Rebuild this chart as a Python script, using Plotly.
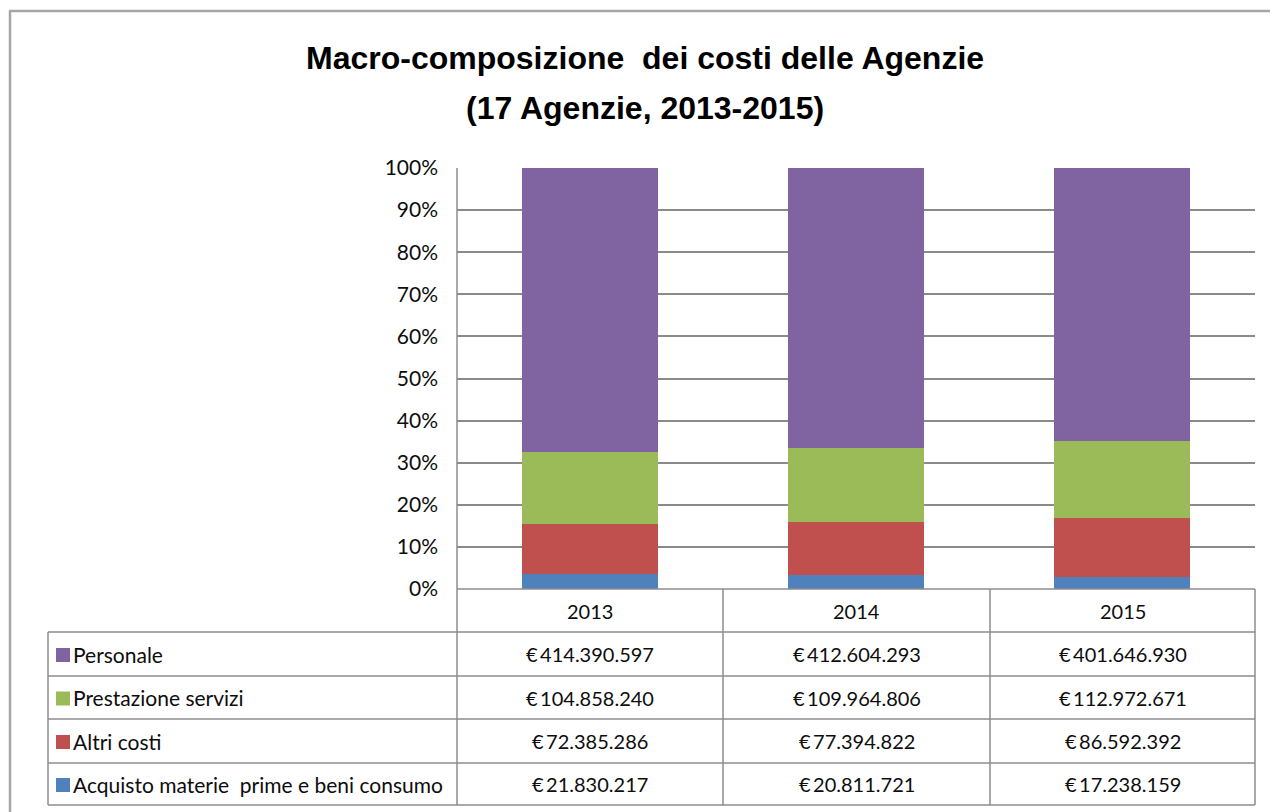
import plotly.graph_objects as go

# --- data ---------------------------------------------------------------
anni = ["2013", "2014", "2015"]
voci = ["Personale", "Prestazione servizi", "Altri costi",
        "Acquisto materie\u00a0 prime e beni consumo"]
personale = [414390597, 412604293, 401646930]
prestazione_servizi = [104858240, 109964806, 112972671]
altri_costi = [72385286, 77394822, 86592392]
acquisto_materie = [21830217, 20811721, 17238159]
tick_vals = [0, 10, 20, 30, 40, 50, 60, 70, 80, 90, 100]
tick_text = ["0%", "10%", "20%", "30%", "40%", "50%", "60%", "70%", "80%", "90%", "100%"]

colori = {
    "Personale": "#8064A2",
    "Prestazione servizi": "#9BBB59",
    "Altri costi": "#C0504D",
    "Acquisto": "#4F81BD",
}

W, H = 1270, 812


def px(x):
    return x / W


def py(y):
    return 1 - y / H


def euro(v):
    return "€\u2009" + f"{v:,}".replace(",", ".")


# plot area in pixels
X0, X1, Y0, Y1 = 457, 1255, 168, 589
# table grid in pixels
T_LEFT = 48
ROWS = [589, 632, 676, 719, 763, 805]
COLS = [457, 723, 990, 1255]

fig = go.Figure()

serie = [
    ("Acquisto", acquisto_materie),
    ("Altri costi", altri_costi),
    ("Prestazione servizi", prestazione_servizi),
    ("Personale", personale),
]
for nome, vals in serie:
    fig.add_trace(go.Bar(x=anni, y=vals, name=nome,
                         marker=dict(color=colori[nome], line=dict(width=0)),
                         showlegend=False, hoverinfo="skip"))

grid_col = "#8a8a8a"
line_col = "#8c8c8c"

shapes = []
# outer chart frame
shapes.append(dict(type="line", xref="paper", yref="paper", x0=px(10), x1=px(10),
                   y0=py(11), y1=0, line=dict(color="#a6a6a6", width=2.5)))
shapes.append(dict(type="line", xref="paper", yref="paper", x0=px(9), x1=1,
                   y0=py(11), y1=py(11), line=dict(color="#a6a6a6", width=2.5)))
# y axis line continued through the table
shapes.append(dict(type="line", xref="paper", yref="paper", x0=px(COLS[0]), x1=px(COLS[0]),
                   y0=py(Y0), y1=py(ROWS[-1]), line=dict(color=line_col, width=1.5)))
# horizontal table lines
shapes.append(dict(type="line", xref="paper", yref="paper", x0=px(COLS[0]), x1=px(COLS[-1]),
                   y0=py(ROWS[0]), y1=py(ROWS[0]), line=dict(color=line_col, width=1.5)))
for r in ROWS[1:]:
    shapes.append(dict(type="line", xref="paper", yref="paper", x0=px(T_LEFT), x1=px(COLS[-1]),
                       y0=py(r), y1=py(r), line=dict(color=line_col, width=1.5)))
# vertical table lines
shapes.append(dict(type="line", xref="paper", yref="paper", x0=px(T_LEFT), x1=px(T_LEFT),
                   y0=py(ROWS[1]), y1=py(ROWS[-1]), line=dict(color=line_col, width=1.5)))
for c in COLS[1:]:
    shapes.append(dict(type="line", xref="paper", yref="paper", x0=px(c), x1=px(c),
                       y0=py(ROWS[0]), y1=py(ROWS[-1]), line=dict(color=line_col, width=1.5)))

font_fam = "Lato, 'Open Sans', sans-serif"
txt_col = "#0d0d0d"
annotations = []

# column headers (years)
for i, a in enumerate(anni):
    cx = (COLS[i] + COLS[i + 1]) / 2
    annotations.append(dict(text=a, xref="paper", yref="paper", x=px(cx),
                            y=py((ROWS[0] + ROWS[1]) / 2), xanchor="center", yanchor="middle",
                            showarrow=False, font=dict(family=font_fam, size=20, color=txt_col)))

righe = [
    ("Personale", voci[0], personale),
    ("Prestazione servizi", voci[1], prestazione_servizi),
    ("Altri costi", voci[2], altri_costi),
    ("Acquisto", voci[3], acquisto_materie),
]
for k, (chiave, etichetta, vals) in enumerate(righe):
    top, bot = ROWS[k + 1], ROWS[k + 2]
    cy = (top + bot) / 2
    # legend key square
    shapes.append(dict(type="rect", xref="paper", yref="paper", x0=px(56), x1=px(70),
                       y0=py(cy - 6), y1=py(cy + 8), fillcolor=colori[chiave],
                       line=dict(width=0)))
    annotations.append(dict(text=etichetta, xref="paper", yref="paper", x=px(71), y=py(cy),
                            xanchor="left", yanchor="middle", showarrow=False,
                            font=dict(family=font_fam, size=21, color=txt_col)))
    for i, v in enumerate(vals):
        cx = (COLS[i] + COLS[i + 1]) / 2
        annotations.append(dict(text=euro(v), xref="paper", yref="paper", x=px(cx), y=py(cy),
                                xanchor="center", yanchor="middle", showarrow=False,
                                font=dict(family=font_fam, size=20, color=txt_col)))

# title
title_font = dict(family="'Liberation Sans Narrow', sans-serif", size=32, color="#000000")
annotations.append(dict(text="<b>Macro-composizione\u00a0 dei costi delle Agenzie</b>",
                        xref="paper", yref="paper", x=px(645), y=py(58),
                        xanchor="center", yanchor="middle", showarrow=False,
                        font=title_font))
annotations.append(dict(text="<b>(17 Agenzie, 2013-2015)</b>",
                        xref="paper", yref="paper", x=px(645), y=py(108),
                        xanchor="center", yanchor="middle", showarrow=False,
                        font=title_font))

fig.update_layout(
    width=W, height=H,
    margin=dict(l=0, r=0, t=0, b=0, pad=0, autoexpand=False),
    paper_bgcolor="white", plot_bgcolor="white",
    barmode="stack", barnorm="percent", bargap=0.49,
    xaxis=dict(domain=[px(X0), px(X1)], type="category", showticklabels=False,
               showgrid=False, zeroline=False, showline=False, ticks="", automargin=False),
    yaxis=dict(domain=[py(Y1), py(Y0)], range=[0, 100], tickvals=tick_vals,
               ticktext=tick_text, showgrid=True, gridcolor=grid_col, gridwidth=2,
               zeroline=False, showline=False, ticks="", ticklen=0, automargin=False,
               ticklabelstandoff=18,
               tickfont=dict(family=font_fam, size=21, color=txt_col)),
    shapes=shapes,
    annotations=annotations,
)

fig.write_html("out.html")
